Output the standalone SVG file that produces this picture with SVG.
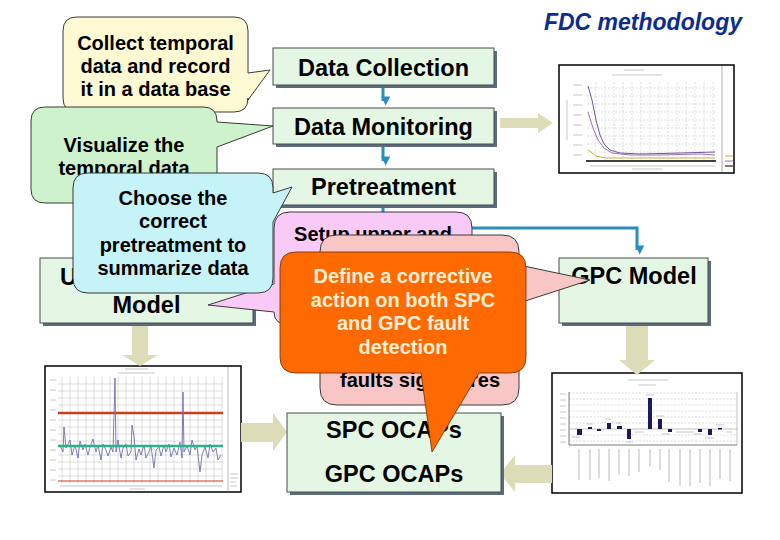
<svg xmlns="http://www.w3.org/2000/svg" width="780" height="540" viewBox="0 0 780 540">
<style>
text{font-family:"Liberation Sans",Arial,sans-serif;font-weight:bold;}
.box{fill:#e4f7e4;stroke:#4a4a4a;stroke-width:1;}
.shadow{fill:#5b6c80;}
.bt{font-size:23.5px;fill:#000;text-anchor:middle;}
.ct{font-size:20px;fill:#000;text-anchor:middle;}
.co{stroke:#3a3a3a;stroke-width:1;}
.beige{fill:#dddcb8;}
.blue{fill:none;stroke:#2a8fc0;stroke-width:3;}
.chart{fill:#fff;stroke:#000;stroke-width:1.5;}
.grid{stroke:#c8c8c8;stroke-width:0.6;stroke-dasharray:2 1.5;}
.faint{stroke:#b8b8b8;stroke-width:0.8;}
</style>
<defs>
<marker id="ah" viewBox="0 0 10 10" refX="5" refY="8" markerWidth="3.2" markerHeight="3" orient="auto" markerUnits="strokeWidth">
<path d="M0,0 L10,5 L0,10 z" fill="#2a8fc0"/>
</marker>
</defs>
<rect width="780" height="540" fill="#fff"/>

<text x="742" y="30" style="font-size:23px;font-style:italic;fill:#0d2d8c;text-anchor:end;">FDC methodology</text>

<!-- charts -->
<g id="chart-monitoring">
<rect class="chart" x="559" y="65" width="175" height="108"/>
<line class="faint" x1="624" y1="70" x2="644" y2="70"/>
<line class="faint" x1="612" y1="75" x2="662" y2="75"/>
<g class="grid">
<line x1="596" y1="82" x2="596" y2="160"/><line x1="605" y1="82" x2="605" y2="160"/><line x1="614" y1="82" x2="614" y2="160"/><line x1="623" y1="82" x2="623" y2="160"/><line x1="632" y1="82" x2="632" y2="160"/><line x1="641" y1="82" x2="641" y2="160"/><line x1="650" y1="82" x2="650" y2="160"/><line x1="659" y1="82" x2="659" y2="160"/><line x1="668" y1="82" x2="668" y2="160"/><line x1="677" y1="82" x2="677" y2="160"/><line x1="686" y1="82" x2="686" y2="160"/><line x1="695" y1="82" x2="695" y2="160"/><line x1="704" y1="82" x2="704" y2="160"/><line x1="713" y1="82" x2="713" y2="160"/>
<line x1="587" y1="88" x2="715" y2="88"/><line x1="587" y1="96" x2="715" y2="96"/><line x1="587" y1="104" x2="715" y2="104"/><line x1="587" y1="112" x2="715" y2="112"/><line x1="587" y1="120" x2="715" y2="120"/><line x1="587" y1="128" x2="715" y2="128"/><line x1="587" y1="136" x2="715" y2="136"/><line x1="587" y1="144" x2="715" y2="144"/><line x1="587" y1="152" x2="715" y2="152"/>
</g>
<g class="faint"><line x1="573" y1="85" x2="582" y2="85"/><line x1="573" y1="95" x2="582" y2="95"/><line x1="573" y1="105" x2="582" y2="105"/><line x1="573" y1="115" x2="582" y2="115"/><line x1="573" y1="125" x2="582" y2="125"/><line x1="573" y1="135" x2="582" y2="135"/><line x1="573" y1="145" x2="582" y2="145"/><line x1="573" y1="155" x2="582" y2="155"/><line x1="567" y1="100" x2="567" y2="140"/><line x1="590" y1="166" x2="715" y2="166"/><line x1="632" y1="169" x2="662" y2="169"/></g>
<line x1="722" y1="66" x2="722" y2="172" stroke="#999" stroke-width="0.8"/>
<polyline points="588,86 592,100 596,120 600,135 604,144 610,150 620,153 640,154 680,153 715,152" fill="none" stroke="#6a5a9a" stroke-width="1"/>
<polyline points="588,112 593,128 598,140 604,148 612,153 630,155 660,155 700,154 715,155" fill="none" stroke="#a070b0" stroke-width="1"/>
<polyline points="588,150 596,156 606,158 640,158 715,158" fill="none" stroke="#c8b040" stroke-width="1"/>
<line x1="586" y1="161" x2="716" y2="161" stroke="#000" stroke-width="1.5"/>
<g stroke-width="1"><line x1="725" y1="156" x2="733" y2="156" stroke="#c8b040"/><line x1="725" y1="161" x2="733" y2="161" stroke="#a070b0"/><line x1="725" y1="166" x2="733" y2="166" stroke="#000"/></g>
</g>

<g id="chart-spc">
<rect class="chart" x="45" y="366" width="196" height="126"/>
<line class="faint" x1="125" y1="369" x2="148" y2="369"/>
<line class="faint" x1="118" y1="373" x2="155" y2="373"/>
<g stroke="#c8c8c8" stroke-width="0.6">
<line x1="62" y1="377" x2="62" y2="483"/><line x1="70" y1="377" x2="70" y2="483"/><line x1="78" y1="377" x2="78" y2="483"/><line x1="86" y1="377" x2="86" y2="483"/><line x1="94" y1="377" x2="94" y2="483"/><line x1="102" y1="377" x2="102" y2="483"/><line x1="110" y1="377" x2="110" y2="483"/><line x1="118" y1="377" x2="118" y2="483"/><line x1="126" y1="377" x2="126" y2="483"/><line x1="134" y1="377" x2="134" y2="483"/><line x1="142" y1="377" x2="142" y2="483"/><line x1="150" y1="377" x2="150" y2="483"/><line x1="158" y1="377" x2="158" y2="483"/><line x1="166" y1="377" x2="166" y2="483"/><line x1="174" y1="377" x2="174" y2="483"/><line x1="182" y1="377" x2="182" y2="483"/><line x1="190" y1="377" x2="190" y2="483"/><line x1="198" y1="377" x2="198" y2="483"/><line x1="206" y1="377" x2="206" y2="483"/><line x1="214" y1="377" x2="214" y2="483"/><line x1="222" y1="377" x2="222" y2="483"/>
<line x1="58" y1="384" x2="223" y2="384"/><line x1="58" y1="391" x2="223" y2="391"/><line x1="58" y1="398" x2="223" y2="398"/><line x1="58" y1="405" x2="223" y2="405"/><line x1="58" y1="420" x2="223" y2="420"/><line x1="58" y1="427" x2="223" y2="427"/><line x1="58" y1="434" x2="223" y2="434"/><line x1="58" y1="441" x2="223" y2="441"/><line x1="58" y1="455" x2="223" y2="455"/><line x1="58" y1="462" x2="223" y2="462"/><line x1="58" y1="469" x2="223" y2="469"/><line x1="58" y1="476" x2="223" y2="476"/>
</g>
<g class="faint"><line x1="50" y1="380" x2="56" y2="380"/><line x1="50" y1="390" x2="56" y2="390"/><line x1="50" y1="400" x2="56" y2="400"/><line x1="50" y1="410" x2="56" y2="410"/><line x1="50" y1="420" x2="56" y2="420"/><line x1="50" y1="430" x2="56" y2="430"/><line x1="50" y1="440" x2="56" y2="440"/><line x1="50" y1="450" x2="56" y2="450"/><line x1="50" y1="460" x2="56" y2="460"/><line x1="50" y1="470" x2="56" y2="470"/><line x1="50" y1="480" x2="56" y2="480"/><line x1="60" y1="486" x2="222" y2="486"/><line x1="130" y1="489" x2="145" y2="489"/></g>
<line x1="228" y1="367" x2="228" y2="491" stroke="#aaa" stroke-width="0.8"/>
<g class="faint"><line x1="230" y1="474" x2="238" y2="474"/><line x1="230" y1="478" x2="238" y2="478"/><line x1="230" y1="482" x2="236" y2="482"/><line x1="230" y1="486" x2="237" y2="486"/></g>
<line x1="58" y1="413" x2="223" y2="413" stroke="#c8401e" stroke-width="2.6"/>
<line x1="58" y1="481" x2="223" y2="481" stroke="#c8401e" stroke-width="1.2"/>
<polyline points="60,446 63,452 64,427 66,448 70,440 72,455 75,445 78,458 80,441 83,450 85,444 88,455 90,447 93,439 96,452 98,445 101,460 103,444 106,450 108,456 111,447 113,452 115,378 116,452 118,440 121,458 123,448 126,444 128,456 131,452 132,425 134,436 136,460 139,449 141,455 144,445 146,458 149,452 151,446 154,468 156,450 159,447 161,456 164,445 166,452 169,444 171,457 174,448 177,455 180,442 182,458 183,392 184,452 187,446 190,455 192,440 195,450 197,446 200,472 202,455 205,447 208,458 210,444 213,452 216,448 218,460 221,455" fill="none" stroke="#7070a8" stroke-width="0.9"/>
<line x1="58" y1="446" x2="223" y2="446" stroke="#2cb08a" stroke-width="2.6"/>
</g>

<g id="chart-sensitivity">
<rect class="chart" x="552" y="373" width="190" height="120"/>
<line class="faint" x1="628" y1="380" x2="668" y2="380"/>
<line class="faint" x1="638" y1="385" x2="656" y2="385"/>
<g class="grid"><line x1="569" y1="393" x2="737" y2="393"/><line x1="569" y1="399" x2="737" y2="399"/><line x1="569" y1="405" x2="737" y2="405"/><line x1="569" y1="411" x2="737" y2="411"/><line x1="569" y1="417" x2="737" y2="417"/><line x1="569" y1="423" x2="737" y2="423"/><line x1="569" y1="435" x2="737" y2="435"/><line x1="569" y1="441" x2="737" y2="441"/></g>
<line x1="569" y1="392" x2="569" y2="445" stroke="#555" stroke-width="0.8"/>
<line x1="737" y1="392" x2="737" y2="445" stroke="#999" stroke-width="0.6"/>
<line x1="569" y1="429" x2="737" y2="429" stroke="#999" stroke-width="0.6"/>
<line x1="569" y1="445" x2="737" y2="445" stroke="#555" stroke-width="0.8"/>
<g class="faint"><line x1="560" y1="394" x2="566" y2="394"/><line x1="560" y1="400" x2="566" y2="400"/><line x1="560" y1="406" x2="566" y2="406"/><line x1="560" y1="412" x2="566" y2="412"/><line x1="560" y1="418" x2="566" y2="418"/><line x1="560" y1="424" x2="566" y2="424"/><line x1="560" y1="430" x2="566" y2="430"/><line x1="560" y1="436" x2="566" y2="436"/><line x1="560" y1="442" x2="566" y2="442"/></g>
<g fill="#1a1a5c">
<rect x="577" y="429" width="5" height="6"/><rect x="588" y="427" width="4" height="2"/><rect x="597" y="429" width="4" height="2"/><rect x="607" y="423" width="4" height="6"/><rect x="617" y="426" width="5" height="3"/><rect x="627" y="429" width="4" height="10"/><rect x="648" y="398" width="4" height="31"/><rect x="658" y="419" width="4" height="10"/><rect x="668" y="429" width="4" height="3"/><rect x="698" y="429" width="4" height="3"/><rect x="708" y="429" width="4" height="6"/><rect x="718" y="428" width="4" height="1.5"/>
</g>
<g class="faint"><line x1="572" y1="437" x2="580" y2="437"/><line x1="586" y1="424" x2="593" y2="424"/><line x1="605" y1="419" x2="611" y2="419"/><line x1="616" y1="423" x2="621" y2="423"/><line x1="626" y1="442" x2="633" y2="442"/><line x1="635" y1="432" x2="644" y2="432"/><line x1="646" y1="395" x2="654" y2="395"/><line x1="656" y1="416" x2="664" y2="416"/><line x1="662" y1="434" x2="670" y2="434"/><line x1="676" y1="432" x2="694" y2="432"/><line x1="694" y1="434" x2="702" y2="434"/><line x1="705" y1="438" x2="714" y2="438"/><line x1="716" y1="425" x2="724" y2="425"/><line x1="726" y1="432" x2="732" y2="432"/></g>
<g stroke="#b8b8b8" stroke-width="1">
<line x1="579" y1="449" x2="579" y2="480"/><line x1="590" y1="449" x2="590" y2="480"/><line x1="599" y1="449" x2="599" y2="478"/><line x1="609" y1="449" x2="609" y2="481"/><line x1="619" y1="449" x2="619" y2="475"/><line x1="629" y1="449" x2="629" y2="476"/><line x1="639" y1="449" x2="639" y2="472"/><line x1="650" y1="449" x2="650" y2="467"/><line x1="660" y1="449" x2="660" y2="470"/><line x1="669" y1="449" x2="669" y2="482"/><line x1="680" y1="449" x2="680" y2="486"/><line x1="690" y1="449" x2="690" y2="486"/><line x1="700" y1="449" x2="700" y2="483"/><line x1="710" y1="449" x2="710" y2="486"/><line x1="720" y1="449" x2="720" y2="479"/><line x1="730" y1="449" x2="730" y2="481"/>
</g>
</g>

<!-- connectors -->
<g id="connectors">
<polygon class="beige" points="500,118 538,118 538,113 553,123 538,133 538,128 500,128"/>
<polygon class="beige" points="626,323 648,323 648,360 655,360 637,375 619,360 626,360"/>
<polygon class="beige" points="132,325 148,325 148,355 158,355 140,366 122,355 132,355"/>
<polygon class="beige" points="241,423 273,423 273,413 287,432 273,451 273,442 241,442"/>
<polygon class="beige" points="552,465 515,465 515,455 500,474 515,492 515,483 552,483"/>
<line class="blue" x1="383" y1="85" x2="383" y2="101" marker-end="url(#ah)"/>
<line class="blue" x1="383" y1="144" x2="383" y2="161" marker-end="url(#ah)"/>
<path class="blue" d="M383,205 V228 H637 V250" marker-end="url(#ah)"/>
</g>

<!-- boxes -->
<g id="data-collection">
<rect class="shadow" x="276" y="51" width="221" height="37"/>
<rect class="box" x="273" y="48" width="221" height="37"/>
<text class="bt" x="383.5" y="75.5">Data Collection</text>
</g>
<g id="data-monitoring">
<rect class="shadow" x="276" y="111" width="221" height="36"/>
<rect class="box" x="273" y="108" width="221" height="36"/>
<text class="bt" x="383.5" y="134.5">Data Monitoring</text>
</g>
<g id="pretreatment">
<rect class="shadow" x="276" y="172" width="221" height="36"/>
<rect class="box" x="273" y="169" width="221" height="36"/>
<text class="bt" x="383.5" y="194.5">Pretreatment</text>
</g>
<g id="spc-model">
<rect class="shadow" x="43" y="261" width="213" height="65"/>
<rect class="box" x="40" y="258" width="213" height="65"/>
<text class="bt" x="60" y="285" style="text-anchor:start;">U</text>
<text class="bt" x="146.5" y="313">Model</text>
</g>
<g id="gpc-model">
<rect class="shadow" x="562" y="261" width="149" height="65"/>
<rect class="box" x="559" y="258" width="149" height="65"/>
<text class="bt" x="634" y="284">GPC Model</text>
</g>
<g id="ocaps">
<rect class="shadow" x="290" y="416" width="214" height="79"/>
<rect class="box" x="287" y="413" width="214" height="79"/>
<text class="bt" x="394" y="438">SPC OCAPs</text>
<text class="bt" x="394" y="482">GPC OCAPs</text>
</g>

<!-- callouts -->
<g id="callout-collect">
<path class="co" fill="#fdf9d3" d="M77,17 H234 Q248,17 248,31 V73 L270,70 L248,100 V98 Q248,112 234,112 H77 Q63,112 63,98 V31 Q63,17 77,17 Z"/>
<text class="ct" x="155.5" y="50">Collect temporal</text>
<text class="ct" x="155.5" y="73">data and record</text>
<text class="ct" x="155.5" y="96">it in a data base</text>
</g>
<g id="callout-visualize">
<path class="co" fill="#cdf2cc" d="M45,107 H203 Q217,107 217,121 V122 L273,126 L217,147 V189 Q217,203 203,203 H45 Q31,203 31,189 V121 Q31,107 45,107 Z"/>
<text class="ct" x="124" y="152">Visualize the</text>
<text class="ct" x="124" y="175">temporal data</text>
</g>
<g id="callout-limits">
<path class="co" fill="#f9c9f7" d="M290,212 H456 Q472,212 472,228 V309 Q472,325 456,325 H290 Q274,325 274,312 L208,305 L274,284 V228 Q274,212 290,212 Z"/>
<text class="ct" x="373" y="241">Setup upper and</text>
</g>
<g id="callout-pretreatment">
<path class="co" fill="#c6f3f8" d="M88,173 H258 Q273,173 273,188 V193 L292,187 L273,222 V278 Q273,293 258,293 H88 Q73,293 73,278 V188 Q73,173 88,173 Z"/>
<text class="ct" x="173" y="205">Choose the</text>
<text class="ct" x="173" y="228">correct</text>
<text class="ct" x="173" y="252">pretreatment to</text>
<text class="ct" x="173" y="275">summarize data</text>
</g>
<g id="callout-signatures">
<path class="co" fill="#f9c6c6" d="M337,235 H502 Q519,235 519,252 V265 L590,280 L519,303 V388 Q519,405 502,405 H337 Q320,405 320,388 V252 Q320,235 337,235 Z"/>
<text class="ct" x="420" y="387">faults signatures</text>
</g>
<g id="callout-corrective">
<path fill="#ff6a00" stroke="#6a2c00" stroke-width="0.8" d="M296,252 H510 Q526,252 526,268 V357 Q526,373 510,373 H479 L432,452 L421,373 H296 Q280,373 280,357 V268 Q280,252 296,252 Z"/>
<text class="ct" x="403" y="283" style="fill:#ffefd6;">Define a corrective</text>
<text class="ct" x="403" y="307" style="fill:#ffefd6;">action on both SPC</text>
<text class="ct" x="403" y="330" style="fill:#ffefd6;">and GPC fault</text>
<text class="ct" x="403" y="354" style="fill:#ffefd6;">detection</text>
</g>
</svg>
